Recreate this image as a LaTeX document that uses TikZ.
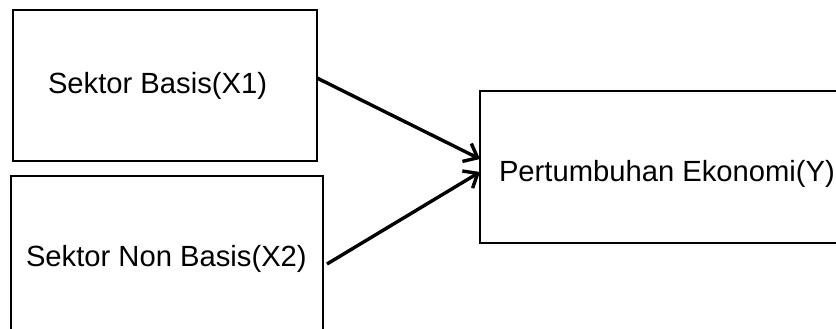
\documentclass[tikz,border=0pt]{standalone}
\usepackage{fontspec}
\setmainfont{Liberation Sans}
\usetikzlibrary{arrows.meta}
\begin{document}
\begin{tikzpicture}[x=1pt,y=-1pt,
  box/.style={draw=black,line width=2.5pt,inner sep=0pt,outer sep=0pt,rectangle},
  lbl/.style={inner sep=0pt,outer sep=0pt,anchor=base west,font=\fontsize{29.2}{35}\selectfont},
  conn/.style={line width=3.4pt,-{Straight Barb[length=12pt,width=20pt,line width=3.4pt]}}]
\useasboundingbox (0,0) rectangle (836,329);
\clip (0,0) rectangle (836,329);
\node[box,minimum width=304pt,minimum height=151pt] (b1) at (165,85.5) {};
\node[box,minimum width=312pt,minimum height=184pt] (b2) at (167,268) {};
\node[box,minimum width=420pt,minimum height=152pt] (b3) at (690,167) {};
\node[lbl] (t1) at (48,93) {Sektor Basis(X1)};
\node[lbl] (t2) at (26,266) {Sektor Non Basis(X2)};
\node[lbl] (t3) at (499,181) {Pertumbuhan Ekonomi(Y)};
\draw[conn] ([yshift=7.5pt]b1.east) -- ([yshift=8pt]b3.west);
\draw[conn] ([xshift=4pt,yshift=4pt]b2.east) -- ([yshift=-5pt]b3.west);
\end{tikzpicture}
\end{document}
